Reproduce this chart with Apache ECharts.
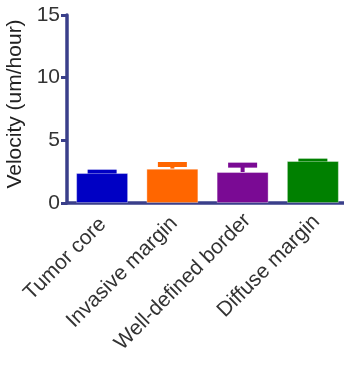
<!DOCTYPE html>
<html><head><meta charset="utf-8">
<script src="https://cdn.jsdelivr.net/npm/echarts@6/dist/echarts.min.js"></script>
<style>html,body{margin:0;padding:0;background:#fff}#c{width:344px;height:367px}</style>
</head><body><div id="c"></div>
<script>
const categories = ['Tumor core', 'Invasive margin', 'Well-defined border', 'Diffuse margin'];
const means = [2.39, 2.74, 2.47, 3.35];
const errHigh = [2.66, 3.27, 3.22, 3.54];
const colors = ['#0000c4', '#ff6600', '#7a0a94', '#008000'];
const yTicks = [0, 5, 10, 15];
// horizontal nudge (px) of each rotated category label, style only
const labelNudge = [1.5, 3.5, 9.5, 7];

const axisColor = '#3a3f8a';
const font = 'Arial, "Liberation Sans", sans-serif';
const chart = echarts.init(document.getElementById('c'));
chart.setOption({
  animation: false,
  grid: { left: 67, top: 15, bottom: 164, right: -4, containLabel: false, outerBoundsMode: 'none' },
  xAxis: {
    type: 'category',
    data: categories.map((c, i) => {
      const f = labelNudge[i] * Math.SQRT1_2;
      return { value: c, textStyle: { padding: [2 * f, -f, 0, 0] } };
    }),
    axisLine: { lineStyle: { color: axisColor, width: 3.5 } },
    axisTick: { alignWithLabel: true, length: 7, lineStyle: { color: axisColor, width: 3 } },
    axisLabel: { rotate: 45, fontSize: 21, color: '#333', fontFamily: font, margin: 19, interval: 0 }
  },
  yAxis: {
    type: 'value', min: yTicks[0], max: yTicks[yTicks.length - 1], interval: 5,
    name: 'Velocity (um/hour)', nameLocation: 'middle', nameGap: 32,
    nameTextStyle: { fontSize: 21, color: '#222', fontFamily: font, padding: [0, 0, 0, 10] },
    splitLine: { show: false },
    axisLine: { show: true, lineStyle: { color: axisColor, width: 3.5 } },
    axisTick: { show: true, length: 6, lineStyle: { color: axisColor, width: 3 } },
    axisLabel: { fontSize: 21, color: '#333', fontFamily: font, margin: 7 }
  },
  series: [
    {
      type: 'bar', barWidth: '74%', z: 2,
      data: means.map((v, i) => ({ value: v, itemStyle: { color: colors[i], borderColor: 'rgba(255,255,255,0.35)', borderWidth: 1 } }))
    },
    {
      type: 'custom', z: 1,
      data: means.map((v, i) => [i, v, errHigh[i]]),
      renderItem: function (params, api) {
        const i = api.value(0);
        const p0 = api.coord([i, api.value(1)]);
        const p1 = api.coord([i, api.value(2)]);
        const c = colors[i];
        const half = 14.5;
        return {
          type: 'group', children: [
            { type: 'line', shape: { x1: p0[0], y1: p0[1], x2: p1[0], y2: p1[1] + 2 }, style: { stroke: c, lineWidth: 4 } },
            { type: 'rect', shape: { x: p1[0] - half, y: p1[1], width: half * 2, height: 5 }, style: { fill: c } }
          ]
        };
      }
    }
  ]
});
</script></body></html>
